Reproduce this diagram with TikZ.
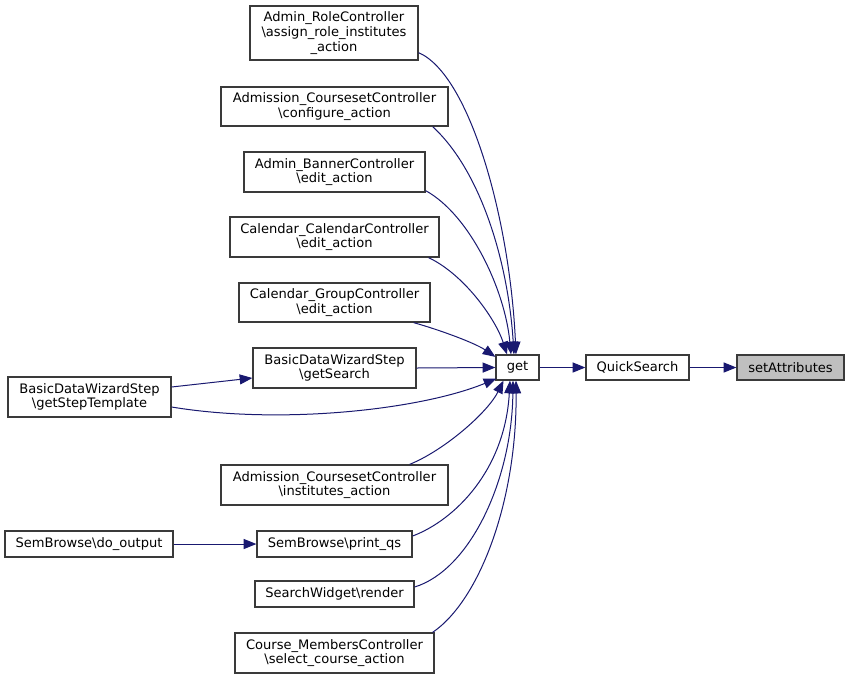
\documentclass[tikz,border=0pt]{standalone}
\usepackage{fontspec}
\setmainfont{DejaVu Sans}
\usetikzlibrary{arrows.meta,calc}
\definecolor{edgeblue}{HTML}{191970}
\definecolor{boxline}{HTML}{3A3A3A}
\definecolor{boxfill}{HTML}{BFBFBF}
\begin{document}
\begin{tikzpicture}[x=0.75pt,y=-0.75pt,
  fn/.style 2 args={draw=boxline,line width=0.95pt,fill=white,inner sep=0pt,align=center,
    font=\fontsize{9.8}{11}\selectfont,minimum width=#1*0.75pt,minimum height=#2*0.75pt},
  cur/.style={fill=boxfill},
  ed/.style={draw=edgeblue,line width=0.75pt,-{Triangle[length=9.5pt,width=7.5pt]}}]
\useasboundingbox[fill=white] (0,0) rectangle (849,679);
% nodes
\node[fn={168}{54}] (role) at (334,33) {Admin\_RoleController\\\textbackslash{}assign\_role\_institutes\\\_action};
\node[fn={227}{39}] (conf) at (334.5,106.5) {Admission\_CoursesetController\\\textbackslash{}configure\_action};
\node[fn={181}{40}] (banner) at (334.5,172) {Admin\_BannerController\\\textbackslash{}edit\_action};
\node[fn={209}{40}] (cal) at (334.5,237) {Calendar\_CalendarController\\\textbackslash{}edit\_action};
\node[fn={191}{39}] (group) at (334.5,302.5) {Calendar\_GroupController\\\textbackslash{}edit\_action};
\node[fn={163}{40}] (gs) at (334.5,368) {BasicDataWizardStep\\\textbackslash{}getSearch};
\node[fn={163}{40}] (gst) at (89.5,397) {BasicDataWizardStep\\\textbackslash{}getStepTemplate};
\node[fn={227}{40}] (inst) at (334.5,485) {Admission\_CoursesetController\\\textbackslash{}institutes\_action};
\node[fn={168}{26}] (dout) at (89,544) {SemBrowse\textbackslash{}do\_output};
\node[fn={155}{26}] (pqs) at (334.5,544) {SemBrowse\textbackslash{}print\_qs};
\node[fn={159}{26}] (rend) at (334.5,594) {SearchWidget\textbackslash{}render};
\node[fn={199}{40}] (course) at (334.5,653) {Course\_MembersController\\\textbackslash{}select\_course\_action};
\node[fn={43}{25}] (get) at (517.5,367.5) {get};
\node[fn={103}{25}] (qs) at (637.5,367.5) {QuickSearch};
\node[fn={107}{25},cur] (set) at (790.5,367.5) {setAttributes};
% edges
\draw[ed] ($(role.south east)+(0,-8)$) .. controls (470,75) and (510,220) .. ($(get.north)+(-1.5,0)$);
\draw[ed] ($(conf.south east)+(-16,0)$) .. controls (480,170) and (508,260) .. ($(get.north)+(-3.5,0)$);
\draw[ed] ($(banner.south east)+(0,-2)$) .. controls (470,215) and (505,290) .. ($(get.north)+(-6.5,0)$);
\draw[ed] ($(cal.south east)+(-11,0)$) .. controls (465,275) and (496,320) .. ($(get.north)+(-10.5,0)$);
\draw[ed] ($(group.south east)+(-17,0)$) .. controls (440,330) and (475,343) .. ($(get.north west)+(0,2.5)$);
\draw[ed] (gs.east) -- (get.west);
\draw[ed] ($(gst.east)+(0,10)$) .. controls (280,425) and (420,410) .. ($(get.south west)+(1,-2)$);
\draw[ed] ($(gst.east)+(0,-10)$) -- ($(gs.west)+(0,10)$);
\draw[ed] ($(inst.north east)+(-39,0)$) .. controls (445,450) and (488,412) .. ($(get.south)+(-14,0)$);
\draw[ed] ($(pqs.east)+(0,-8)$) .. controls (455,520) and (505,470) .. ($(get.south)+(-7.5,0)$);
\draw[ed] ($(rend.east)+(0,-7)$) .. controls (470,570) and (512,480) .. ($(get.south)+(-4.5,0)$);
\draw[ed] ($(course.north east)+(-2,0)$) .. controls (480,600) and (517,500) .. ($(get.south)+(-1.5,0)$);
\draw[ed] (dout.east) -- (pqs.west);
\draw[ed] (get.east) -- (qs.west);
\draw[ed] (qs.east) -- (set.west);
\end{tikzpicture}
\end{document}
